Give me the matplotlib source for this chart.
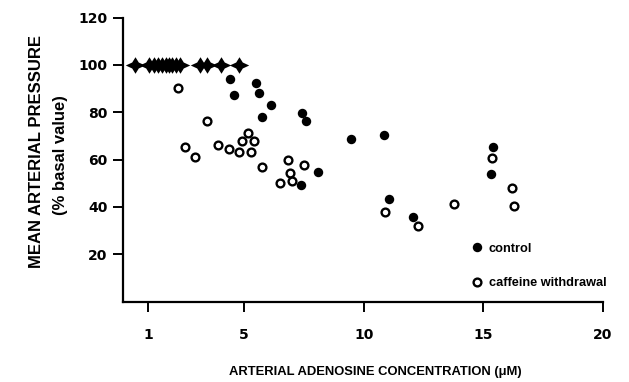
import matplotlib
matplotlib.use("Agg")
import matplotlib.pyplot as plt
from matplotlib.path import Path

# ---- data ----
baseline_x = [0.45, 1.03, 1.24, 1.40, 1.59, 1.74, 1.86, 2.01, 2.15, 2.32, 3.15, 3.45, 4.03, 4.78]
baseline_y = [100] * len(baseline_x)

control_x = [4.40, 5.49, 4.57, 5.63, 6.11, 7.42, 7.60, 5.75, 9.48, 8.11, 7.39,
             10.86, 11.07, 12.07, 15.40, 15.31]
control_y = [93.9, 92.5, 87.4, 88.0, 83.1, 79.5, 76.4, 77.9, 68.9, 54.6, 49.2,
             70.4, 43.3, 35.8, 65.4, 53.9]

caffeine_x = [2.25, 3.45, 2.54, 2.96, 3.90, 4.39, 4.79, 5.17, 4.93, 5.42, 5.31,
              5.77, 6.85, 7.50, 6.90, 6.52, 7.00, 10.90, 12.28, 13.78, 15.35,
              16.18, 16.28]
caffeine_y = [90.1, 76.2, 65.4, 60.9, 66.1, 64.3, 63.1, 71.3, 67.7, 67.7, 63.3,
              57.0, 59.8, 57.8, 54.4, 50.2, 51.1, 37.7, 31.9, 41.2, 60.8,
              47.8, 40.4]

x_ticks = [1, 5, 10, 15, 20]
y_ticks = [20, 40, 60, 80, 100, 120]

plt.rcParams['font.family'] = ['Liberation Sans', 'DejaVu Sans']
plt.rcParams['font.weight'] = 'bold'

fig = plt.figure(figsize=(6.29, 3.82), dpi=100)
ax = fig.add_axes([122.7 / 629, 80.5 / 382, 480.3 / 629, 283.8 / 382])

# four-pointed star with long horizontal arms
r = 0.34
star = Path([(1.0, 0), (r, r * 0.9), (0, 0.85), (-r, r * 0.9), (-1.0, 0),
             (-r, -r * 0.9), (0, -0.85), (r, -r * 0.9), (1.0, 0)],
            [Path.MOVETO] + [Path.LINETO] * 7 + [Path.CLOSEPOLY])
ax.plot(baseline_x, baseline_y, linestyle='none', marker=star, markersize=14,
        color='black', markeredgewidth=0, clip_on=False, zorder=3)
ax.plot(control_x, control_y, linestyle='none', marker='o', markersize=6.8,
        color='black', markeredgewidth=0, label='control', zorder=3)
ax.plot(caffeine_x, caffeine_y, linestyle='none', marker='o', markersize=5.6,
        markerfacecolor='white', markeredgecolor='black', markeredgewidth=1.7,
        label='caffeine withdrawal', zorder=3)

ax.set_xlim(-0.07, 20)
ax.set_ylim(0, 120)
ax.set_xticks(x_ticks)
ax.set_yticks(y_ticks)
ax.set_xticklabels([str(v) for v in x_ticks])
ax.set_yticklabels([str(v) for v in y_ticks])

for s in ['top', 'right']:
    ax.spines[s].set_visible(False)
for s in ['left', 'bottom']:
    ax.spines[s].set_linewidth(1.6)
ax.tick_params(axis='both', direction='out', width=1.4, length=7, pad=4)
ax.tick_params(axis='x', pad=12)
for lab in ax.get_xticklabels() + ax.get_yticklabels():
    lab.set_fontweight('bold')
    lab.set_fontfamily('DejaVu Sans')
    lab.set_fontsize(10)

leg = ax.legend(loc='upper left', bbox_to_anchor=(0.72, 0.225), frameon=False,
                handlelength=0.6, handletextpad=0.6, labelspacing=1.75,
                prop={'size': 9.2, 'weight': 'bold'}, borderaxespad=0)

fig.text(375 / 629, 1 - 372 / 382, 'ARTERIAL ADENOSINE CONCENTRATION (\u03bcM)',
         ha='center', va='center', fontsize=9.4, fontweight='bold')
fig.text(37 / 629, 1 - 151 / 382, 'MEAN ARTERIAL PRESSURE', rotation=90,
         ha='center', va='center', fontsize=12, fontweight='bold')
fig.text(61 / 629, 1 - 155 / 382, '(% basal value)', rotation=90,
         ha='center', va='center', fontsize=12, fontweight='bold')

fig.savefig('out.png', dpi=100)
